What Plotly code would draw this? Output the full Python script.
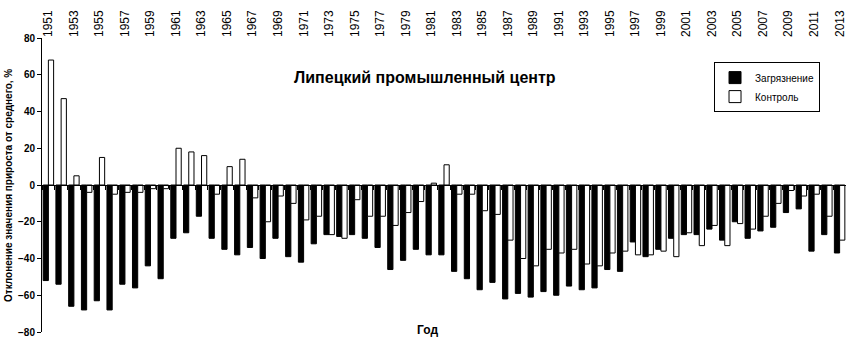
import plotly.graph_objects as go

years = list(range(1951, 2014))
pollution = [-52, -54, -66, -68, -63, -68, -54, -56, -44, -51,
             -29, -26, -17, -29, -35, -38, -34, -40, -29, -39,
             -42, -32, -27, -28, -27, -29, -34, -46, -41, -35,
             -38, -38, -47, -51, -57, -53, -62, -59, -61, -58,
             -60, -55, -57, -56, -46, -47, -31, -39, -35, -29,
             -27, -27, -24, -30, -20, -29, -25, -23, -15, -13,
             -36, -27, -37]
control = [68, 47, 5, -4, 15, -5, -4, -4, -2, -2,
           20, 18, 16, -5, 10, 14, -7, -20, -6, -10,
           -19, -17, -27, -29, -8, -17, -17, -22, -15, -9,
           1, 11, -5, -5, -14, -16, -30, -40, -44, -35,
           -37, -35, -43, -44, -37, -36, -38, -38, -36, -39,
           -26, -33, -22, -33, -21, -24, -17, -10, -3, -6,
           -5, -17, -30]
tick_years = years[::2]
boundaries = [y - 0.5 for y in years] + [years[-1] + 0.5]

FONT = "Liberation Sans, Arial, sans-serif"

fig = go.Figure()
fig.add_trace(go.Bar(x=years, y=pollution, name="Загрязнение",
                     marker=dict(color="black", line=dict(color="black", width=1))))
fig.add_trace(go.Bar(x=years, y=control, name="Контроль",
                     marker=dict(color="white", line=dict(color="black", width=1))))

fig.update_layout(
    width=846, height=337,
    margin=dict(l=42, r=0, t=38, b=5),
    plot_bgcolor="white", paper_bgcolor="white",
    barmode="group", bargap=0.18, bargroupgap=0,
    font=dict(family=FONT, color="black"),
    showlegend=True,
    legend=dict(x=0.9677, xanchor="right", y=0.918, yanchor="top",
                bordercolor="black", borderwidth=1, bgcolor="white",
                font=dict(size=10, family=FONT), itemwidth=30,
                tracegroupgap=0),
    xaxis=dict(side="top", range=[1950.5, 2013.5], tickvals=tick_years,
               ticktext=[str(y) for y in tick_years], tickangle=-90,
               tickfont=dict(size=12, family=FONT), ticks="",
               ticklabeloverflow="allow",
               showline=False, showgrid=False, zeroline=False),
    xaxis2=dict(overlaying="x", matches="x", anchor="free", position=0.5,
                side="bottom", tickvals=boundaries, showticklabels=False,
                ticks="outside", ticklen=4, tickcolor="black", tickwidth=1,
                showline=True, linecolor="black", linewidth=1,
                showgrid=False, zeroline=False),
    yaxis=dict(range=[-80, 80], dtick=20, ticks="outside", ticklen=4,
               tickcolor="black", showline=True, linecolor="black",
               linewidth=1, showgrid=False, zeroline=False,
               ticklabeloverflow="allow",
               tickfont=dict(size=10, family=FONT, weight="bold")),
)

fig.add_trace(go.Scatter(x=years, y=[0] * len(years), xaxis="x2", mode="markers",
                         marker=dict(opacity=0), showlegend=False, hoverinfo="skip"))

fig.add_annotation(text="Липецкий промышленный центр", xref="paper", yref="paper",
                   x=0.476, y=0.864, xanchor="center", yanchor="middle", showarrow=False,
                   font=dict(size=16, family=FONT, weight="bold"))
fig.add_annotation(text="Год", xref="paper", yref="paper",
                   x=0.48, y=0.008, xanchor="center", yanchor="middle", showarrow=False,
                   font=dict(size=12, family=FONT, weight="bold"))
fig.add_annotation(text="Отклонение значения прироста от среднего, %", xref="paper", yref="paper",
                   x=-0.0423, y=0.5, xanchor="center", yanchor="middle", textangle=-90,
                   showarrow=False, font=dict(size=10, family=FONT, weight="bold"))

fig.write_html("out.html", config={"displayModeBar": False},
               post_script="document.body.style.margin='0';document.body.style.overflow='hidden';")
